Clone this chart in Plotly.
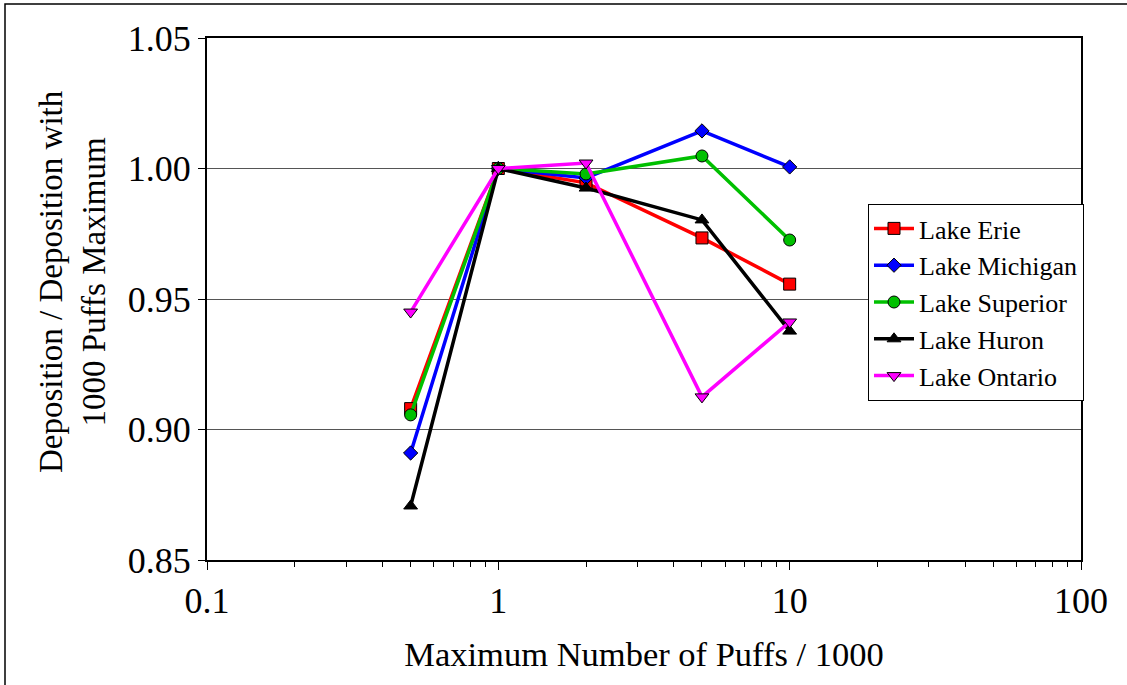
import plotly.graph_objects as go

x_vals = [0.5, 1, 2, 5, 10]
erie = [0.908, 1.000, 0.9945, 0.9734, 0.9557]
michigan = [0.891, 1.000, 0.9964, 1.0144, 1.0006]
superior = [0.9056, 1.000, 0.9979, 1.0048, 0.9726]
huron = [0.8707, 1.000, 0.9925, 0.9803, 0.9377]
ontario = [0.945, 1.000, 1.0021, 0.9125, 0.9412]

series = [
    ("Lake Erie", erie, "#ff0000", "square", 12),
    ("Lake Michigan", michigan, "#0000ff", "diamond", 11),
    ("Lake Superior", superior, "#00c000", "circle", 12),
    ("Lake Huron", huron, "#000000", "triangle-up", 12),
    ("Lake Ontario", ontario, "#ff00ff", "triangle-down", 12),
]

fig = go.Figure()
for name, vals, color, sym, size in series:
    fig.add_trace(go.Scatter(
        x=x_vals, y=vals, name=name, mode="lines+markers",
        line=dict(color=color, width=3.5),
        marker=dict(symbol=sym, size=size, color=color,
                    line=dict(color="#000000", width=1)),
    ))

W, H = 1127, 685
L, R, T, B = 207, 1081, 38, 560
font = "Liberation Serif"

def px_x(p):
    return (p - L) / (R - L)

def px_y(p):
    return (B - p) / (B - T)

fig.update_layout(
    width=W, height=H,
    margin=dict(l=L, r=W - R, t=T, b=H - B),
    paper_bgcolor="white", plot_bgcolor="white",
    font=dict(family=font, color="black", size=33),
    showlegend=True,
    legend=dict(
        x=px_x(868), y=px_y(204),
        xanchor="left", yanchor="top",
        bgcolor="white", bordercolor="black", borderwidth=1,
        font=dict(family=font, size=26),
        tracegroupgap=0, itemwidth=40,
    ),
    xaxis=dict(
        type="log", range=[-1, 2],
        tickvals=[0.1, 1, 10, 100], ticktext=["0.1", "1", "10", "100"],
        ticks="outside", ticklen=8, tickcolor="black", tickwidth=1,
        showline=True, linecolor="black", linewidth=2, mirror=True,
        showgrid=False, zeroline=False,
        minor=dict(ticks="outside", ticklen=5, tickcolor="black",
                   dtick="D1", showgrid=False),
        title=dict(text="Maximum Number of Puffs / 1000", standoff=22,
                   font=dict(family=font, size=34.5)),
        tickfont=dict(family=font, size=36),
    ),
    yaxis=dict(
        range=[0.85, 1.05], tickvals=[0.85, 0.90, 0.95, 1.00, 1.05],
        ticktext=["0.85", "0.90", "0.95", "1.00", "1.05"],
        ticks="outside", ticklen=7, tickcolor="black",
        showline=True, linecolor="black", linewidth=2, mirror=True,
        showgrid=True, gridcolor="#555555", gridwidth=1, zeroline=False,
        tickfont=dict(family=font, size=36),
    ),
)

fig.add_annotation(
    text="Deposition / Deposition with<br>1000 Puffs Maximum",
    xref="paper", yref="paper", x=px_x(72), y=px_y(282),
    xanchor="center", yanchor="middle", textangle=-90, showarrow=False,
    font=dict(family=font, size=33, color="black"),
)

fig.add_shape(type="rect", xref="paper", yref="paper",
              x0=px_x(5), x1=px_x(1140),
              y0=px_y(700), y1=px_y(4),
              line=dict(color="black", width=1.5), layer="below")

fig.write_html("out.html", config={"displayModeBar": False},
               post_script="document.body.style.margin='0px';")
